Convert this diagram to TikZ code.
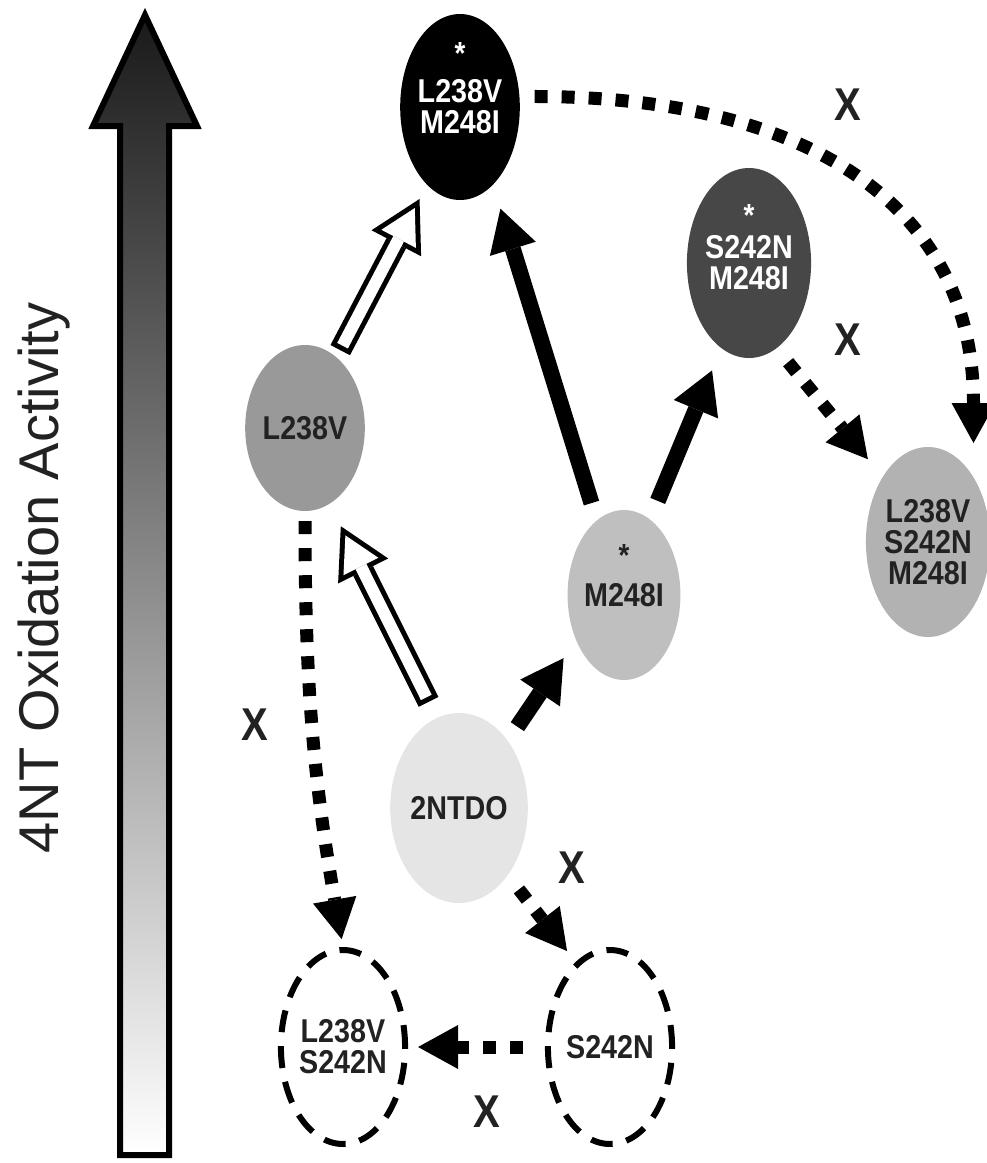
\documentclass[tikz,border=0pt]{standalone}
\usepackage{fontspec}
\setmainfont{Liberation Sans}
\newfontfamily\nodefont[FakeStretch=0.87]{Liberation Sans}
\usetikzlibrary{shapes.geometric, arrows.meta}
\definecolor{txtdark}{HTML}{222222}

\begin{document}
\begin{tikzpicture}[x=1pt, y=1pt,
      mutant/.style={ellipse, minimum width=112pt, minimum height=180pt, inner sep=0pt, align=center, font=\fontsize{33}{31}\nodefont\bfseries, text=txtdark},
      untested/.style={mutant, draw, line width=6pt, dash pattern=on 22pt off 14pt, minimum width=120pt, minimum height=194pt},
      asterisk/.style={font=\fontsize{32}{32}\nodefont\bfseries, inner sep=0pt},
      nogo/.style={font=\fontsize{46}{46}\nodefont\bfseries, text=txtdark, inner sep=0pt},
      solidarrow/.style={line width=16pt, -{Triangle[length=42pt, width=48pt, line width=0pt]}},
      dottedarrow/.style={line width=13pt, dash pattern=on 13pt off 14pt, -{Triangle[length=40pt, width=44pt, line width=0pt]}},
      hollowout/.style={line width=22pt, -{Triangle[length=50pt, width=56pt, line width=0pt]}},
      hollowin/.style={line width=12pt, white, -{Triangle[length=34.75pt, width=39pt, line width=0pt]}}
      ]
      \useasboundingbox (0,0) rectangle (987,-1163);

      % Activity scale
      \draw[line width=6pt, top color=black!90, bottom color=white] (120,-1155) -- (120,-126) -- (93,-126) -- (145,-15) -- (197,-126) -- (169,-126) -- (169,-1155) -- cycle;
      \node[rotate=90, font=\fontsize{56}{56}\selectfont, text=txtdark] (scale) at (44,-578) {4NT Oxidation Activity};

      % Mutants
      \node[mutant, fill=black, text=white, minimum height=186pt, minimum width=110pt,
            label={[asterisk, text=white, yshift=54pt]center:*}] (top) at (460,-107) {L238V\\M248I};
      \node[mutant, fill=black!72, text=white, minimum height=190pt,
            label={[asterisk, text=white, yshift=48pt]center:*}] (s242nm) at (749,-263) {S242N\\M248I};
      \node[mutant, fill=black!40, minimum height=166pt] (l238v) at (305,-428) {L238V};
      \node[mutant, fill=black!25, minimum height=170pt,
            label={[asterisk, text=txtdark, yshift=40pt]center:*}] (m248i) at (624,-595) {M248I};
      \node[mutant, fill=black!30, minimum height=190pt, minimum width=110pt] (triple) at (928,-542) {L238V\\S242N\\M248I};
      \node[mutant, fill=black!10, minimum height=190pt] (ntdo) at (459,-808) {2NTDO};

      % Not obtained
      \node[untested] (ls) at (343,-1047) {L238V\\S242N};
      \node[untested] (s242n) at (610,-1047) {S242N};

      % Hollow arrows
      \draw[hollowout, shorten <=8pt, shorten >=16pt] (l238v.66) -- (top.247);
      \draw[hollowin, shorten <=13pt, shorten >=26.25pt] (l238v.66) -- (top.247);
      \draw[hollowout, shorten <=18pt, shorten >=25pt] (ntdo.104) -- (l238v.288);
      \draw[hollowin, shorten <=23pt, shorten >=35.25pt] (ntdo.104) -- (l238v.288);

      % Solid arrows
      \draw[solidarrow, shorten <=18pt, shorten >=25pt] (m248i.110) -- (top.293);
      \draw[solidarrow, shorten <=20pt, shorten >=24pt] (m248i.71) -- (s242nm.252);
      \draw[solidarrow, shorten <=17pt, shorten >=22pt] (ntdo.54) -- (m248i.223);

      % Dotted arrows
      \draw[dottedarrow, shorten <=15pt, shorten >=34pt] (top.10) to[out=0, in=90, looseness=1.2] (triple.55);
      \draw[dottedarrow, shorten <=18pt, shorten >=23pt] (s242nm.288) -- (triple.125);
      \draw[dottedarrow, shorten <=10pt, shorten >=8pt] (l238v.south) to[out=-90, in=100] (ls.north);
      \draw[dottedarrow, shorten <=18pt, shorten >=14pt] (ntdo.306) -- (s242n.112);
      \draw[dottedarrow, shorten <=22pt, shorten >=10pt] (s242n.west) -- (ls.east);

      % Blocked steps
      \node[nogo] (x1) at (848,-105) {X};
      \node[nogo] (x2) at (848,-340) {X};
      \node[nogo] (x3) at (255,-725) {X};
      \node[nogo] (x4) at (572,-868) {X};
      \node[nogo] (x5) at (487,-1112) {X};
   \end{tikzpicture}
\end{document}
